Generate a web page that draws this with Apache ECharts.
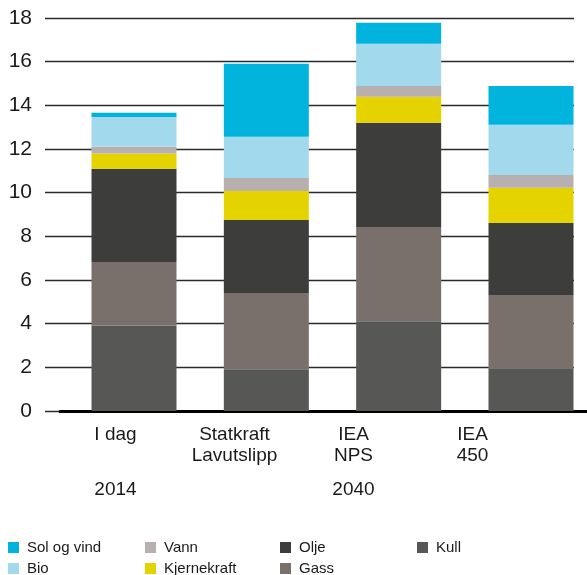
<!DOCTYPE html>
<html>
<head>
<meta charset="utf-8">
<script src="https://cdn.jsdelivr.net/npm/echarts@6/dist/echarts.min.js"></script>
<style>
  html, body { margin: 0; padding: 0; background: #fff; }
  #chart { width: 587px; height: 575px; }
</style>
</head>
<body>
<div id="chart"></div>
<script>
// Scenarios and their year groups
const categories = ['I dag', 'Statkraft\nLavutslipp', 'IEA\nNPS', 'IEA\n450'];
const years = ['2014', '', '2040', ''];

// Energy sources, stacked from bottom to top
const kull        = [3.90, 1.91, 4.11, 1.96];
const gass        = [2.92, 3.49, 4.32, 3.35];
const olje        = [4.27, 3.35, 4.77, 3.30];
const kjernekraft = [0.70, 1.33, 1.19, 1.62];
const vann        = [0.31, 0.59, 0.50, 0.58];
const bio         = [1.37, 1.89, 1.93, 2.30];
const solOgVind   = [0.19, 3.34, 0.96, 1.78];

const yTicks = { min: 0, max: 18, interval: 2 };

const FONT = '"Liberation Sans", Arial, sans-serif';
const TXT = '#1a1a1a';

const seriesDefs = [
  { name: 'Kull',        data: kull,        color: '#575756' },
  { name: 'Gass',        data: gass,        color: '#7a706b' },
  { name: 'Olje',        data: olje,        color: '#3d3d3b' },
  { name: 'Kjernekraft', data: kjernekraft, color: '#e5d300' },
  { name: 'Vann',        data: vann,        color: '#b8b0ae' },
  { name: 'Bio',         data: bio,         color: '#a3d9ed' },
  { name: 'Sol og vind', data: solOgVind,   color: '#00b4dd' }
];

const chart = echarts.init(document.getElementById('chart'), null, { renderer: 'canvas' });

function legendCol(left, names) {
  return {
    orient: 'vertical', left: left, top: 540, height: 60, padding: 0,
    itemWidth: 11, itemHeight: 11, itemGap: 6, icon: 'rect',
    selectedMode: false,
    textStyle: { fontFamily: FONT, fontSize: 15, color: TXT, padding: [0, 0, 0, 3] },
    data: names
  };
}

const hiddenY = (i) => ({
  gridIndex: i, type: 'value', min: yTicks.min, max: yTicks.max, show: false, splitLine: { show: false }
});

chart.setOption({
  animation: false,
  backgroundColor: '#fff',
  grid: [
    { left: 45, right: 13, top: 18, height: 393 },    // value scale and gridlines
    { left: 134, width: 397, top: 18, height: 393 },  // stacked bars (bar centres at the ends)
    { left: 56, width: 476, top: 18, height: 393 },   // scenario and year labels
    { left: 60, right: 0, top: 18, height: 393 }      // baseline
  ],
  xAxis: [
    { gridIndex: 0, type: 'category', data: categories, show: false },
    {
      gridIndex: 1, type: 'category', data: categories, boundaryGap: false,
      axisLine: { show: false }, axisTick: { show: false }, axisLabel: { show: false }
    },
    {
      gridIndex: 2, type: 'category', data: categories, position: 'bottom',
      axisLine: { show: false }, axisTick: { show: false },
      axisLabel: { margin: 13, fontFamily: FONT, fontSize: 19, color: TXT, lineHeight: 21 }
    },
    {
      gridIndex: 2, type: 'category', data: years, position: 'bottom',
      axisLine: { show: false }, axisTick: { show: false },
      axisLabel: { margin: 68, fontFamily: FONT, fontSize: 19, color: TXT, lineHeight: 21 }
    },
    {
      gridIndex: 3, type: 'category', data: categories,
      axisLine: { show: true, lineStyle: { color: '#000', width: 3 } },
      axisTick: { show: false }, axisLabel: { show: false }
    }
  ],
  yAxis: [
    {
      gridIndex: 0, type: 'value', min: yTicks.min, max: yTicks.max, interval: yTicks.interval,
      axisLine: { show: false }, axisTick: { show: false },
      axisLabel: { margin: 13, fontFamily: FONT, fontSize: 21, color: TXT },
      splitLine: { show: true, lineStyle: { color: '#2a2a2a', width: 1.3 } }
    },
    hiddenY(1), hiddenY(2), hiddenY(3)
  ],
  legend: [
    legendCol(8,   ['Sol og vind', 'Bio']),
    legendCol(145, ['Vann', 'Kjernekraft']),
    legendCol(280, ['Olje', 'Gass']),
    legendCol(417, ['Kull'])
  ],
  series: seriesDefs.map(s => ({
    name: s.name, type: 'bar', stack: 'total',
    xAxisIndex: 1, yAxisIndex: 1, clip: false,
    barWidth: 85, data: s.data,
    itemStyle: { color: s.color }
  }))
});
</script>
</body>
</html>
